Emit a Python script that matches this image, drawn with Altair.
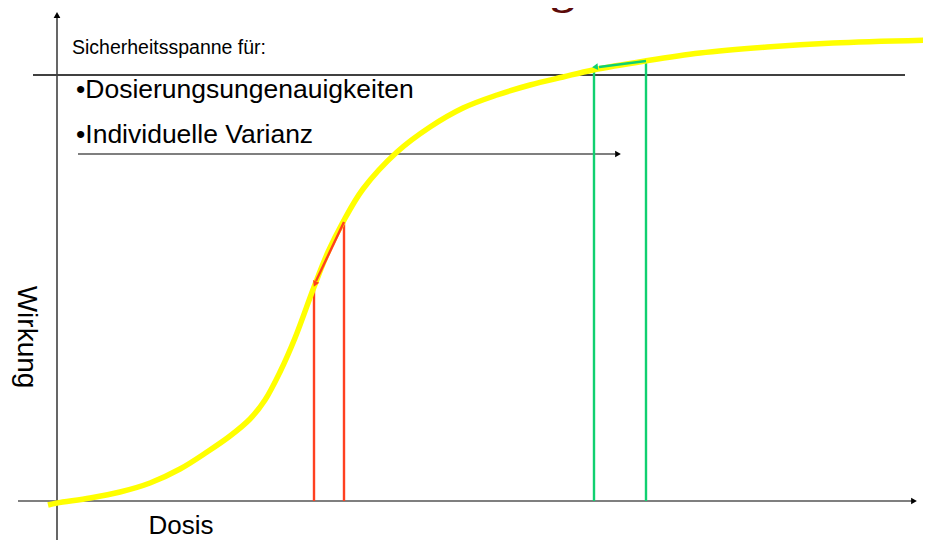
import altair as alt
import pandas as pd

# Dose-response curve (arbitrary units: dose along x, effect along y)
curve_dose = [-9, 0, 33, 63, 93, 123, 150, 173, 193, 208, 223, 238, 257, 271, 286,
              306, 340, 373, 406, 440, 473, 506, 536, 588, 643, 710, 776, 874]
curve_effect = [-4, -2, 3, 9, 18, 32, 49, 65, 82, 101, 129, 163, 214, 249, 279,
                312, 349, 374, 393, 406, 416, 424, 431, 440, 448, 454, 458, 461]

# Dose markers
red_dose = [257, 287]
red_effect = [214, 279]
green_dose = [537, 589]
green_effect = [431, 440]

# Reference levels
threshold_effect = 426
margin_arrow_effect = 347

X_DOM = [-49, 866]
Y_DOM = [-39, 493]

xs = alt.Scale(domain=X_DOM, nice=False, zero=False)
ys = alt.Scale(domain=Y_DOM, nice=False, zero=False)


def X(f="x"):
    return alt.X(f"{f}:Q", scale=xs, axis=None)


def Y(f="y"):
    return alt.Y(f"{f}:Q", scale=ys, axis=None)


curve_df = pd.DataFrame({"x": curve_dose, "y": curve_effect})
curve = alt.Chart(curve_df).mark_line(
    color="#FFFF00", strokeWidth=5.5, interpolate="catmull-rom", clip=False
).encode(x=X(), y=Y())

# straight segments: axes, threshold line, margin arrow
seg_df = pd.DataFrame({
    "x": [-39, 0, -24, 21],
    "y": [0, -39, threshold_effect, margin_arrow_effect],
    "x2": [855, 0, 848, 558],
    "y2": [0, 483, threshold_effect, margin_arrow_effect],
    "c": ["#000000", "#000000", "#404040", "#000000"],
    "w": [1.2, 1.2, 1.8, 1.2],
})
segs = alt.Chart(seg_df).mark_rule().encode(
    x=X(), y=Y(), x2="x2:Q", y2="y2:Q",
    color=alt.Color("c:N", scale=None),
    strokeWidth=alt.StrokeWidth("w:Q", scale=None),
)

# colored vertical rules and shift arrows
vr_df = pd.DataFrame({
    "x": red_dose + green_dose,
    "y": [0] * 4,
    "x2": red_dose + green_dose,
    "y2": red_effect + green_effect,
    "c": ["#FF4020", "#FF4020", "#10D070", "#10D070"],
})
shift_df = pd.DataFrame({
    "x": [red_dose[1], green_dose[1]],
    "y": [red_effect[1], green_effect[1]],
    "x2": [red_dose[0] + 2, green_dose[0] + 5],
    "y2": [red_effect[0] + 6, green_effect[0] + 3],
    "c": ["#FF4020", "#10D070"],
})
vrules = alt.Chart(vr_df).mark_rule(strokeWidth=2.4).encode(
    x=X(), y=Y(), x2="x2:Q", y2="y2:Q", color=alt.Color("c:N", scale=None)
)
shifts = alt.Chart(shift_df).mark_rule(strokeWidth=2.4).encode(
    x=X(), y=Y(), x2="x2:Q", y2="y2:Q", color=alt.Color("c:N", scale=None)
)

# arrow heads
head_df = pd.DataFrame({
    "x": [857, 0, 561, red_dose[0] + 1, green_dose[0] + 1],
    "y": [0, 486, margin_arrow_effect, red_effect[0] + 3, green_effect[0] + 3],
    "a": [90, 0, 90, 204, 264],
    "c": ["#000000", "#000000", "#000000", "#FF4020", "#10D070"],
    "s": [45, 45, 45, 45, 45],
})
heads = alt.Chart(head_df).mark_point(shape="triangle-up", filled=True, opacity=1).encode(
    x=X(), y=Y(),
    angle=alt.Angle("a:Q", scale=None),
    color=alt.Color("c:N", scale=None),
    size=alt.Size("s:Q", scale=None),
)

# texts
head_txt = alt.Chart(pd.DataFrame({"x": [15], "y": [453], "t": ["Sicherheitsspanne für:"]})).mark_text(
    align="left", baseline="middle", font="Liberation Sans", fontSize=19.5, color="#000000"
).encode(x=X(), y=Y(), text="t:N")

bul_df = pd.DataFrame({
    "x": [19, 19],
    "y": [411, 366],
    "t": ["•Dosierungsungenauigkeiten", "•Individuelle Varianz"],
})
bullets = alt.Chart(bul_df).mark_text(
    align="left", baseline="middle", font="Liberation Sans", fontSize=26.5, color="#000000"
).encode(x=X(), y=Y(), text="t:N")

dosis = alt.Chart(pd.DataFrame({"x": [124], "y": [-25], "t": ["Dosis"]})).mark_text(
    align="center", baseline="middle", font="Liberation Sans", fontSize=26, color="#000000"
).encode(x=X(), y=Y(), text="t:N")

wirkung = alt.Chart(pd.DataFrame({"x": [-31], "y": [164], "t": ["Wirkung"]})).mark_text(
    align="center", baseline="middle", font="Liberation Sans", fontSize=28, angle=90,
    color="#000000"
).encode(x=X(), y=Y(), text="t:N")

title = alt.Chart(pd.DataFrame({"x": [383], "y": [498], "t": ["Dosisfindung"]})).mark_text(
    align="center", baseline="alphabetic", font="Liberation Serif", fontSize=48,
    fontWeight="bold", color="#5C0A0A"
).encode(x=X(), y=Y(), text="t:N")

chart = alt.layer(
    segs, vrules, curve, shifts, heads, head_txt, bullets, dosis, wirkung, title
).properties(
    width=915, height=532, padding=0, autosize="none"
).configure_view(stroke=None)

chart.save("out.html", embed_options={"renderer": "svg", "actions": False})
